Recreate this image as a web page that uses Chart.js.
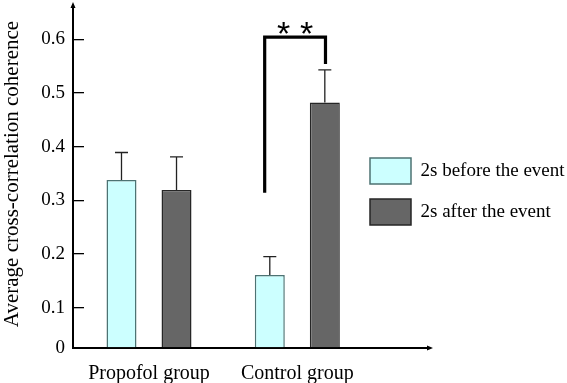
<!DOCTYPE html>
<html>
<head>
<meta charset="utf-8">
<script src="https://cdn.jsdelivr.net/npm/chart.js@4"></script>
<style>
  html, body { margin: 0; padding: 0; background: #fff; }
  #wrap { width: 567px; height: 383px; }
</style>
</head>
<body>
<div id="wrap"><canvas id="coh-chart"></canvas></div>
<script>
// Data
const groups = ['Propofol group', 'Control group'];
const beforeValues = [0.338, 0.161];
const beforeErrors = [0.051, 0.034];
const afterValues = [0.319, 0.482];
const afterErrors = [0.062, 0.061];
const seriesNames = ['2s before the event', '2s after the event'];
const yTicks = [0.1, 0.2, 0.3, 0.4, 0.5, 0.6];
const axisFloor = 0.025; // the drawn "0" sits here, the axis is not evenly spaced below 0.1
// significance bracket (x in group units, y in coherence)
const bracket = { x1: 0.78, x2: 1.19, yLeft: 0.314, yTop: 0.604, yRight: 0.554, label: '*' };

const serif = 'Liberation Serif';

// Error bars, significance bracket, axis arrows
const extrasPlugin = {
  id: 'extras',
  afterDatasetsDraw(chart) {
    const ctx = chart.ctx;
    const x = chart.scales.x;
    const y = chart.scales.y;
    const area = chart.chartArea;
    const errs = [beforeErrors, afterErrors];
    const vals = [beforeValues, afterValues];

    ctx.save();
    ctx.strokeStyle = '#222';
    ctx.lineWidth = 1.3;
    for (let d = 0; d < 2; d++) {
      const meta = chart.getDatasetMeta(d);
      meta.data.forEach((bar, i) => {
        const top = y.getPixelForValue(vals[d][i] + errs[d][i]);
        ctx.beginPath();
        ctx.moveTo(bar.x, bar.y);
        ctx.lineTo(bar.x, top);
        ctx.moveTo(bar.x - 6.5, top);
        ctx.lineTo(bar.x + 6.5, top);
        ctx.stroke();
      });
    }

    // bracket
    const bx1 = x.getPixelForValue(bracket.x1);
    const bx2 = x.getPixelForValue(bracket.x2);
    const by = y.getPixelForValue(bracket.yTop);
    ctx.strokeStyle = '#000';
    ctx.lineWidth = 3.2;
    ctx.lineJoin = 'miter';
    ctx.beginPath();
    ctx.moveTo(bx1, y.getPixelForValue(bracket.yLeft));
    ctx.lineTo(bx1, by);
    ctx.lineTo(bx2, by);
    ctx.lineTo(bx2, y.getPixelForValue(bracket.yRight));
    ctx.stroke();

    ctx.fillStyle = '#000';
    ctx.font = '34px "Liberation Sans"';
    ctx.textAlign = 'center';
    ctx.textBaseline = 'alphabetic';
    const mid = (bx1 + bx2) / 2;
    ctx.fillText(bracket.label, mid - 11.5, by + 8);
    ctx.fillText(bracket.label, mid + 11.5, by + 8);

    // y axis line and both arrow heads
    const x0 = Math.round(area.left);
    ctx.lineWidth = 2;
    ctx.beginPath();
    ctx.moveTo(x0, area.bottom + 1);
    ctx.lineTo(x0, 6);
    ctx.moveTo(area.right, area.bottom);
    ctx.lineTo(428, area.bottom);
    ctx.stroke();
    ctx.beginPath();
    ctx.moveTo(x0, 2);
    ctx.lineTo(x0 - 2.5, 8);
    ctx.lineTo(x0 + 2.5, 8);
    ctx.closePath();
    ctx.moveTo(433, area.bottom);
    ctx.lineTo(427, area.bottom - 2.5);
    ctx.lineTo(427, area.bottom + 2.5);
    ctx.closePath();
    ctx.fill();
    ctx.restore();
  }
};

const ctxCoh = document.getElementById('coh-chart').getContext('2d');
const cohChart = new Chart(ctxCoh, {
  type: 'bar',
  data: {
    datasets: [
      {
        label: seriesNames[0],
        data: beforeValues.map((v, i) => ({ x: i, y: v })),
        backgroundColor: '#ccffff',
        borderColor: '#4d7373',
        borderWidth: 1.5,
        base: axisFloor
      },
      {
        label: seriesNames[1],
        data: afterValues.map((v, i) => ({ x: i, y: v })),
        backgroundColor: '#666666',
        borderColor: '#262626',
        borderWidth: 1.5,
        base: axisFloor
      }
    ]
  },
  options: {
    responsive: true,
    maintainAspectRatio: false,
    animation: false,
    categoryPercentage: 0.742,
    barPercentage: 0.545,
    layout: { padding: 0 },
    plugins: {
      tooltip: { enabled: false },
      legend: {
        position: 'right',
        maxWidth: 212,
        labels: {
          boxWidth: 41,
          boxHeight: 26,
          padding: 15,
          color: '#000',
          font: { family: serif, size: 19 }
        }
      }
    },
    scales: {
      x: {
        type: 'linear',
        offset: false,
        min: -0.5125,
        max: 1.389,
        afterBuildTicks: (scale) => { scale.ticks = groups.map((g, i) => ({ value: i })); },
        afterFit: (scale) => {
          scale.height = 35;
          scale.paddingLeft = 0;
          scale.paddingRight = 0;
        },
        grid: { display: false, drawTicks: false },
        border: { display: true, color: '#000', width: 2 },
        ticks: {
          padding: 14,
          color: '#000',
          font: { family: serif, size: 20 },
          callback: (v) => groups[v]
        }
      },
      y: {
        min: axisFloor,
        max: 0.673,
        afterBuildTicks: (scale) => { scale.ticks = [axisFloor].concat(yTicks).map(v => ({ value: v })); },
        afterFit: (scale) => {
          scale.width = 73;
          scale.paddingTop = 0;
          scale.paddingBottom = 0;
        },
        grid: {
          drawOnChartArea: false,
          drawTicks: true,
          tickLength: -11,
          lineWidth: 1.3,
          color: (c) => (c.tick && c.tick.value === axisFloor ? 'rgba(0,0,0,0)' : '#000')
        },
        border: { display: false },
        ticks: {
          padding: 19,
          color: '#000',
          font: { family: serif, size: 19 },
          callback: (v) => (v === axisFloor ? '0' : v.toFixed(1))
        },
        title: {
          display: true,
          text: 'Average cross-correlation coherence',
          color: '#000',
          padding: { top: 0, bottom: 0 },
          font: { family: serif, size: 21 }
        }
      }
    }
  },
  plugins: [extrasPlugin]
});
</script>
</body>
</html>
